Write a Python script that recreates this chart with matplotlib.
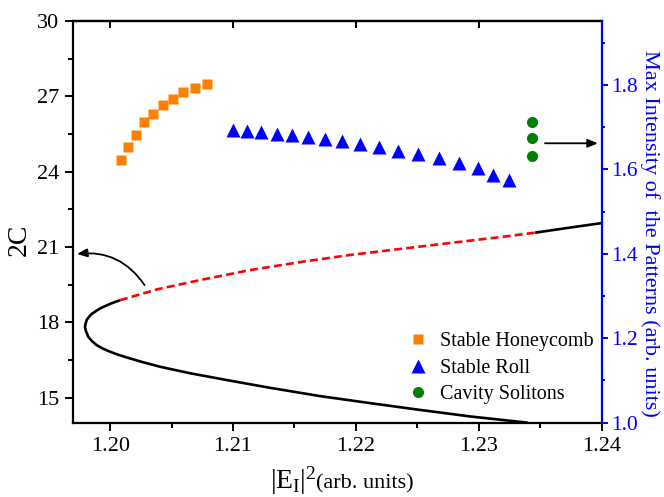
import numpy as np
import matplotlib
matplotlib.use("Agg")
import matplotlib.pyplot as plt
from matplotlib.ticker import MultipleLocator

plt.rcParams['font.family'] = 'Liberation Serif'
plt.rcParams['mathtext.fontset'] = 'custom'
plt.rcParams['mathtext.rm'] = 'Liberation Serif'
plt.rcParams['mathtext.it'] = 'Liberation Serif:italic'

# bistability curve, 2C vs |E_I|^2 (left axis)
stable_low_x = [1.2340, 1.22929, 1.22522, 1.22115, 1.21708, 1.21301, 1.20948, 1.20650, 1.20405,
                1.20259, 1.20134, 1.20064, 1.19998, 1.19941, 1.19890, 1.19852, 1.19822, 1.19803,
                1.19795, 1.19800, 1.19809, 1.19825, 1.19849, 1.19917, 1.19998, 1.20080]
stable_low_y = [14.00, 14.25, 14.51, 14.78, 15.06, 15.39, 15.70, 15.97, 16.23,
                16.42, 16.60, 16.71, 16.83, 16.95, 17.09, 17.25, 17.42, 17.65,
                17.80, 17.95, 18.09, 18.20, 18.33, 18.55, 18.73, 18.88]
unstable_x = [1.20080, 1.2039, 1.2073, 1.2114, 1.2155, 1.2195, 1.2236, 1.2277, 1.2317, 1.2346]
unstable_y = [18.88, 19.32, 19.68, 20.08, 20.40, 20.68, 20.92, 21.16, 21.39, 21.57]
stable_up_x = [1.2346, 1.2374, 1.2400]
stable_up_y = [21.57, 21.77, 21.95]

# max intensity of patterns (right axis)
honey_x = [1.20088, 1.20147, 1.20212, 1.20275, 1.20351, 1.20427, 1.20511, 1.20595, 1.20688, 1.20786]
honey_y = [1.622, 1.652, 1.681, 1.712, 1.732, 1.752, 1.766, 1.782, 1.792, 1.802]
roll_x = [1.20997, 1.21111, 1.21228, 1.21356, 1.21478, 1.21613, 1.21749, 1.21885, 1.22034,
          1.22191, 1.22346, 1.22508, 1.22679, 1.22840, 1.22997, 1.23119, 1.23247]
roll_y = [1.693, 1.691, 1.689, 1.683, 1.681, 1.676, 1.671, 1.667, 1.661,
          1.652, 1.644, 1.635, 1.626, 1.614, 1.602, 1.586, 1.574]
cs_x = [1.23434, 1.23434, 1.23434]
cs_y = [1.712, 1.673, 1.631]

fig = plt.figure(figsize=(6.64, 4.97), dpi=100)
ax = fig.add_axes([0.1104, 0.1495, 0.7955, 0.8082])
ax2 = ax.twinx()

ax.plot(stable_low_x, stable_low_y, color='black', lw=1.9, solid_capstyle='butt')
ax.plot(unstable_x, unstable_y, color='#ff0000', lw=1.9, linestyle=(0, (3, 1.6)))
ax.plot(stable_up_x, stable_up_y, color='black', lw=1.9, solid_capstyle='butt')

ax2.plot(honey_x, honey_y, 's', color='#ff8000', ms=7.2, mec='none', label='Stable Honeycomb')
ax2.plot(roll_x, roll_y, '^', color='#0000ff', ms=10, mec='none', label='Stable Roll')
ax2.plot(cs_x, cs_y, 'o', color='#008000', ms=8, mec='none', label='Cavity Solitons')

ax.annotate('', xy=(1.1973, 20.72), xytext=(1.2028, 19.48),
            arrowprops=dict(arrowstyle='-|>,head_length=0.6,head_width=0.25', color='black', lw=1.3,
                            connectionstyle='arc3,rad=0.3', shrinkA=0, shrinkB=0))
ax.annotate('', xy=(1.2397, 25.13), xytext=(1.2354, 25.13),
            arrowprops=dict(arrowstyle='-|>,head_length=0.6,head_width=0.25', color='black', lw=1.3,
                            shrinkA=0, shrinkB=0))

ax.set_xlim(1.197, 1.24)
ax.set_ylim(14, 30)
ax2.set_ylim(1.0, 1.951)

ax.xaxis.set_major_locator(MultipleLocator(0.01))
ax.xaxis.set_minor_locator(MultipleLocator(0.005))
ax.yaxis.set_major_locator(MultipleLocator(3))
ax.yaxis.set_minor_locator(MultipleLocator(1.5))
ax2.yaxis.set_major_locator(MultipleLocator(0.2))
ax2.yaxis.set_minor_locator(MultipleLocator(0.1))
ax.xaxis.set_major_formatter(plt.FormatStrFormatter('%.2f'))
ax2.yaxis.set_major_formatter(plt.FormatStrFormatter('%.1f'))

ax.tick_params(axis='both', which='major', direction='out', length=6, width=1.4, labelsize=16, pad=4)
ax.tick_params(axis='both', which='minor', direction='out', length=3.5, width=1.4)
ax2.tick_params(axis='y', which='major', direction='out', length=4, width=1.4, colors='#0000ff',
                labelsize=15.5, pad=3)
ax2.tick_params(axis='y', which='minor', direction='out', length=2.5, width=1.4, colors='#0000ff')

# inward ticks on the top frame
top = ax.secondary_xaxis('top')
top.xaxis.set_major_locator(MultipleLocator(0.01))
top.tick_params(direction='in', length=5, width=1.4, labeltop=False)
top.spines['top'].set_linewidth(1.6)

for s in ['left', 'bottom', 'top']:
    ax.spines[s].set_linewidth(1.6)
    ax2.spines[s].set_visible(False)
ax.spines['right'].set_visible(False)
ax2.spines['right'].set_color('#0000ff')
ax2.spines['right'].set_linewidth(1.6)

ax.set_ylabel('2C', fontsize=20)
ax.yaxis.set_label_coords(-0.078, 0.455)
ax2.set_ylabel('Max Intensity of  the Patterns (arb. units)', fontsize=16, color='#0000ff',
               rotation=-90, va='bottom')
ax2.yaxis.set_label_coords(1.073, 0.471)

ax.text(0.4595, -0.165, r'$|\mathrm{E}_{\mathrm{I}}|^{2}$', transform=ax.transAxes,
        fontsize=20, ha='right', va='baseline')
ax.text(0.4595, -0.165, '(arb. units)', transform=ax.transAxes,
        fontsize=16, ha='left', va='baseline')

ax2.legend(loc='upper left', bbox_to_anchor=(0.618, 0.245), frameon=False, fontsize=14.5,
           handletextpad=0.6, labelspacing=0.35, handlelength=1.0, borderaxespad=0)

fig.savefig('out.png', dpi=100)
